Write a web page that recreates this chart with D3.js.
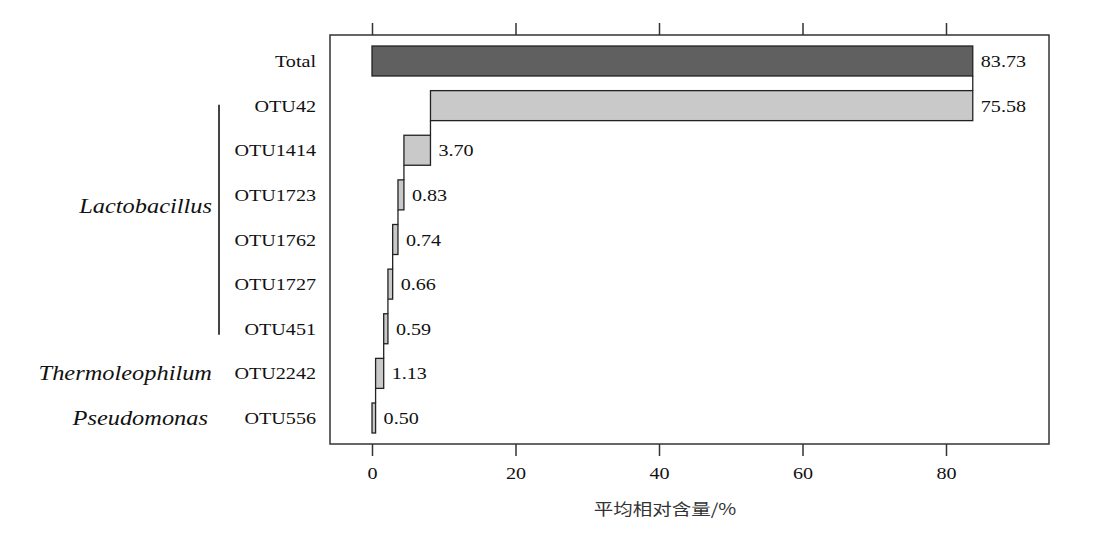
<!DOCTYPE html>
<html>
<head>
<meta charset="utf-8">
<script src="https://cdn.jsdelivr.net/npm/d3@7"></script>
<style>
  body { margin: 0; background: #fff; }
  text { font-family: "Liberation Serif", "DejaVu Serif", serif; fill: #111; }
</style>
</head>
<body>
<div id="app"></div>
<script>
(function (d3) {
  'use strict'

  // data
  const labels = ['Total', 'OTU42', 'OTU1414', 'OTU1723', 'OTU1762', 'OTU1727', 'OTU451', 'OTU2242', 'OTU556']
  const values = [83.73, 75.58, 3.70, 0.83, 0.74, 0.66, 0.59, 1.13, 0.50]
  const genera = ['Lactobacillus', 'Thermoleophilum', 'Pseudomonas']
  const generaRows = [['OTU42', 'OTU451'], ['OTU2242', 'OTU2242'], ['OTU556', 'OTU556']]
  const ticks = [0, 20, 40, 60, 80]
  const xTitle = '平均相对含量/%'

  const w = 1096
  const h = 545
  const sx = 1.22 // the source picture is stretched sideways

  // waterfall: Total spans 0..sum, then each OTU steps down from the one above
  const bars = []
  let end = values[0]
  labels.forEach(function (name, i) {
    if (i === 0) {
      bars.push({ name: name, v: values[i], x0: 0, x1: values[i], total: true })
    } else {
      bars.push({ name: name, v: values[i], x0: end - values[i], x1: end, total: false })
      end = end - values[i]
    }
  })

  const svg = d3.select('#app').append('svg')
    .attr('width', w)
    .attr('height', h)

  const xScale = d3.scaleLinear().domain([0, 80]).range([372, 946])
  const yScale = d3.scalePoint().domain(labels).range([61, 418])
  const barH = 30
  const boxL = 330, boxR = 1049, boxT = 35, boxB = 444

  // frame
  svg.append('rect')
    .attr('x', boxL).attr('y', boxT)
    .attr('width', boxR - boxL).attr('height', boxB - boxT)
    .attr('fill', 'none').attr('stroke', '#333').attr('stroke-width', 1.5)

  // axes
  const bottom = svg.append('g')
    .attr('transform', 'translate(0,' + boxB + ')')
    .call(d3.axisBottom(xScale).tickValues(ticks).tickSize(12).tickPadding(11))
  bottom.select('.domain').remove()
  bottom.selectAll('line').attr('stroke', '#333').attr('stroke-width', 1.5)
  bottom.selectAll('text')
    .style('font-family', '"Liberation Serif", serif')
    .style('font-size', '16.5px')
    .attr('fill', '#111')
    .attr('transform', 'scale(' + sx + ',1)')

  const top = svg.append('g')
    .attr('transform', 'translate(0,' + boxT + ')')
    .call(d3.axisTop(xScale).tickValues(ticks).tickSize(12).tickFormat(''))
  top.select('.domain').remove()
  top.selectAll('line').attr('stroke', '#333').attr('stroke-width', 1.5)

  svg.append('text')
    .attr('transform', 'translate(665,515) scale(' + sx + ',1)')
    .attr('text-anchor', 'middle')
    .style('font-family', '"Noto Sans CJK SC", sans-serif')
    .style('font-size', '16px')
    .style('fill', '#333')
    .text(xTitle)

  // connectors between consecutive bars
  const links = []
  for (let i = 0; i < bars.length - 1; i++) {
    const xv = i === 0 ? bars[0].x1 : bars[i].x0
    links.push({ x: xv, a: bars[i].name, b: bars[i + 1].name })
  }
  svg.selectAll('line.link')
    .data(links)
    .enter()
    .append('line')
    .attr('class', 'link')
    .attr('x1', d => xScale(d.x)).attr('x2', d => xScale(d.x))
    .attr('y1', d => yScale(d.a) + barH / 2)
    .attr('y2', d => yScale(d.b) - barH / 2)
    .attr('stroke', '#222').attr('stroke-width', 1.3)

  // bars
  svg.selectAll('rect.bar')
    .data(bars)
    .enter()
    .append('rect')
    .attr('class', 'bar')
    .attr('x', d => xScale(d.x0))
    .attr('y', d => yScale(d.name) - barH / 2)
    .attr('width', d => xScale(d.x1) - xScale(d.x0))
    .attr('height', barH)
    .attr('fill', d => d.total ? '#606060' : '#c9c9c9')
    .attr('stroke', '#222')
    .attr('stroke-width', 1.3)

  // value labels
  svg.selectAll('text.val')
    .data(bars)
    .enter()
    .append('text')
    .attr('class', 'val')
    .attr('transform', d => 'translate(' + (xScale(d.x1) + 8) + ',' + (yScale(d.name) + 6) + ') scale(' + sx + ',1)')
    .style('font-size', '16.5px')
    .text(d => d.v.toFixed(2))

  // row labels
  svg.selectAll('text.row')
    .data(labels)
    .enter()
    .append('text')
    .attr('class', 'row')
    .attr('text-anchor', 'end')
    .attr('transform', d => 'translate(316,' + (yScale(d) + 6) + ') scale(' + sx + ',1)')
    .style('font-size', '16.5px')
    .text(d => d)

  // genus labels
  const groups = genera.map(function (g, i) {
    const r = generaRows[i]
    return { name: g, y0: yScale(r[0]), y1: yScale(r[1]) }
  })
  svg.selectAll('text.genus')
    .data(groups)
    .enter()
    .append('text')
    .attr('class', 'genus')
    .attr('text-anchor', 'end')
    .attr('transform', function (d) {
      const multi = d.y1 > d.y0
      const yy = multi ? (d.y0 + d.y1) / 2 - 11 : d.y0
      const xx = d.name === 'Pseudomonas' ? 208 : 212
      return 'translate(' + xx + ',' + (yy + 7) + ') scale(' + sx + ',1)'
    })
    .style('font-size', '20px')
    .style('font-style', 'italic')
    .text(d => d.name)

  // bracket for the Lactobacillus group
  svg.selectAll('line.bracket')
    .data(groups.filter(d => d.y1 > d.y0))
    .enter()
    .append('line')
    .attr('class', 'bracket')
    .attr('x1', 219).attr('x2', 219)
    .attr('y1', d => d.y0 - 1)
    .attr('y2', d => d.y1 + 6)
    .attr('stroke', '#444').attr('stroke-width', 2)
}(d3))
</script>
</body>
</html>
